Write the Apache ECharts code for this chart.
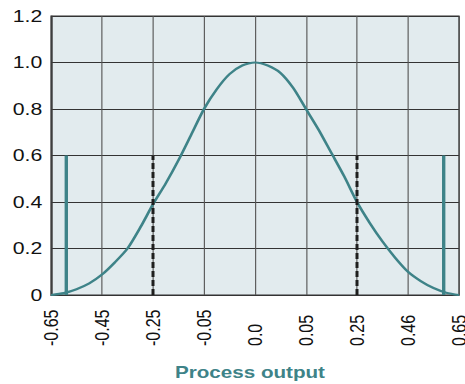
<!DOCTYPE html>
<html>
<head>
<meta charset="utf-8">
<script src="https://cdn.jsdelivr.net/npm/echarts@6/dist/echarts.min.js"></script>
<style>
  html, body { margin: 0; padding: 0; background: #fff; overflow: hidden; }
  /* the reference is stretched sideways, so draw narrower and scale the whole chart */
  #chart { width: 372px; height: 384px; transform: scaleX(1.25); transform-origin: 0 0; }
</style>
</head>
<body>
<div id="chart"></div>
<script>
// tick labels on the x axis, one per grid line (positions 0..8)
var xLabels = ['-0.65', '-0.45', '-0.25', '-0.05', '0.0', '0.05', '0.25', '0.46', '0.65'];
var yLabels = ['0', '0.2', '0.4', '0.6', '0.8', '1.0', '1.2'];

// bell curve (x in grid-line positions)
var curveX = [0, 0.25, 0.5, 0.75, 1, 1.25, 1.5, 1.75, 2, 2.25, 2.5, 2.75, 3, 3.25, 3.5, 3.75, 4,
              4.25, 4.5, 4.75, 5, 5.25, 5.5, 5.75, 6, 6.25, 6.5, 6.75, 7, 7.25, 7.5, 7.75, 8];
var curveY = [0.0, 0.008, 0.025, 0.05, 0.088, 0.14, 0.2, 0.29, 0.39, 0.48, 0.58, 0.69, 0.8, 0.885, 0.95, 0.987, 1.0,
              0.987, 0.955, 0.89, 0.8, 0.71, 0.61, 0.51, 0.4, 0.31, 0.23, 0.16, 0.1, 0.06, 0.03, 0.01, 0.0];

// vertical limit lines
var solidLimits = [0.3, 7.7];
var dashedLimits = [2, 6];
var limitTop = 0.6;

var teal = '#3e8388';
var font = 'Liberation Sans, Arial, Helvetica, sans-serif';

var series = [{
  type: 'line',
  data: curveX.map(function (x, i) { return [x, curveY[i]]; }),
  smooth: 0.25,
  showSymbol: false,
  lineStyle: { color: teal, width: 2.2 },
  z: 3
}];
solidLimits.forEach(function (x) {
  series.push({
    type: 'line', data: [[x, 0], [x, limitTop]], showSymbol: false,
    lineStyle: { color: teal, width: 2.7 }, z: 4
  });
});
dashedLimits.forEach(function (x) {
  series.push({
    type: 'line', data: [[x, 0], [x, limitTop]], showSymbol: false,
    lineStyle: { color: '#1e1e1e', width: 2.4, type: [6, 3] }, z: 4
  });
});

var myChart = echarts.init(document.getElementById('chart'), null, { renderer: 'svg' });
myChart.setOption({
  animation: false,
  grid: {
    left: 40.8, right: 4.8, top: 16, bottom: 89, outerBoundsMode: 'none',
    show: true, backgroundColor: '#e2ebee', borderColor: '#333', borderWidth: 1
  },
  xAxis: {
    type: 'value', min: 0, max: 8, interval: 1,
    axisLine: { show: true, lineStyle: { color: '#333', width: 1 } },
    axisTick: { show: false },
    splitLine: { show: true, lineStyle: { color: '#555', width: 0.9 } },
    axisLabel: {
      rotate: 90, align: 'left', margin: 51, padding: [9, 0, 0, 0],
      color: '#111', fontSize: 16, fontFamily: font,
      showMinLabel: true, showMaxLabel: true,
      formatter: function (v) { return xLabels[Math.round(v)]; }
    },
    name: 'Process output', nameLocation: 'middle', nameGap: 69,
    nameTextStyle: {
      color: teal, fontSize: 16.5, fontWeight: 'bold', padding: [0, 8, 0, 0],
      fontFamily: font
    }
  },
  yAxis: {
    type: 'value', min: 0, max: 1.2, interval: 0.2,
    axisLine: { show: true, lineStyle: { color: '#333', width: 1 } },
    axisTick: { show: false },
    splitLine: { show: true, lineStyle: { color: '#333', width: 1 } },
    axisLabel: {
      margin: 7, color: '#111', fontSize: 17, fontFamily: font,
      formatter: function (v) { return yLabels[Math.round(v * 5)]; }
    }
  },
  series: series
});
</script>
</body>
</html>
